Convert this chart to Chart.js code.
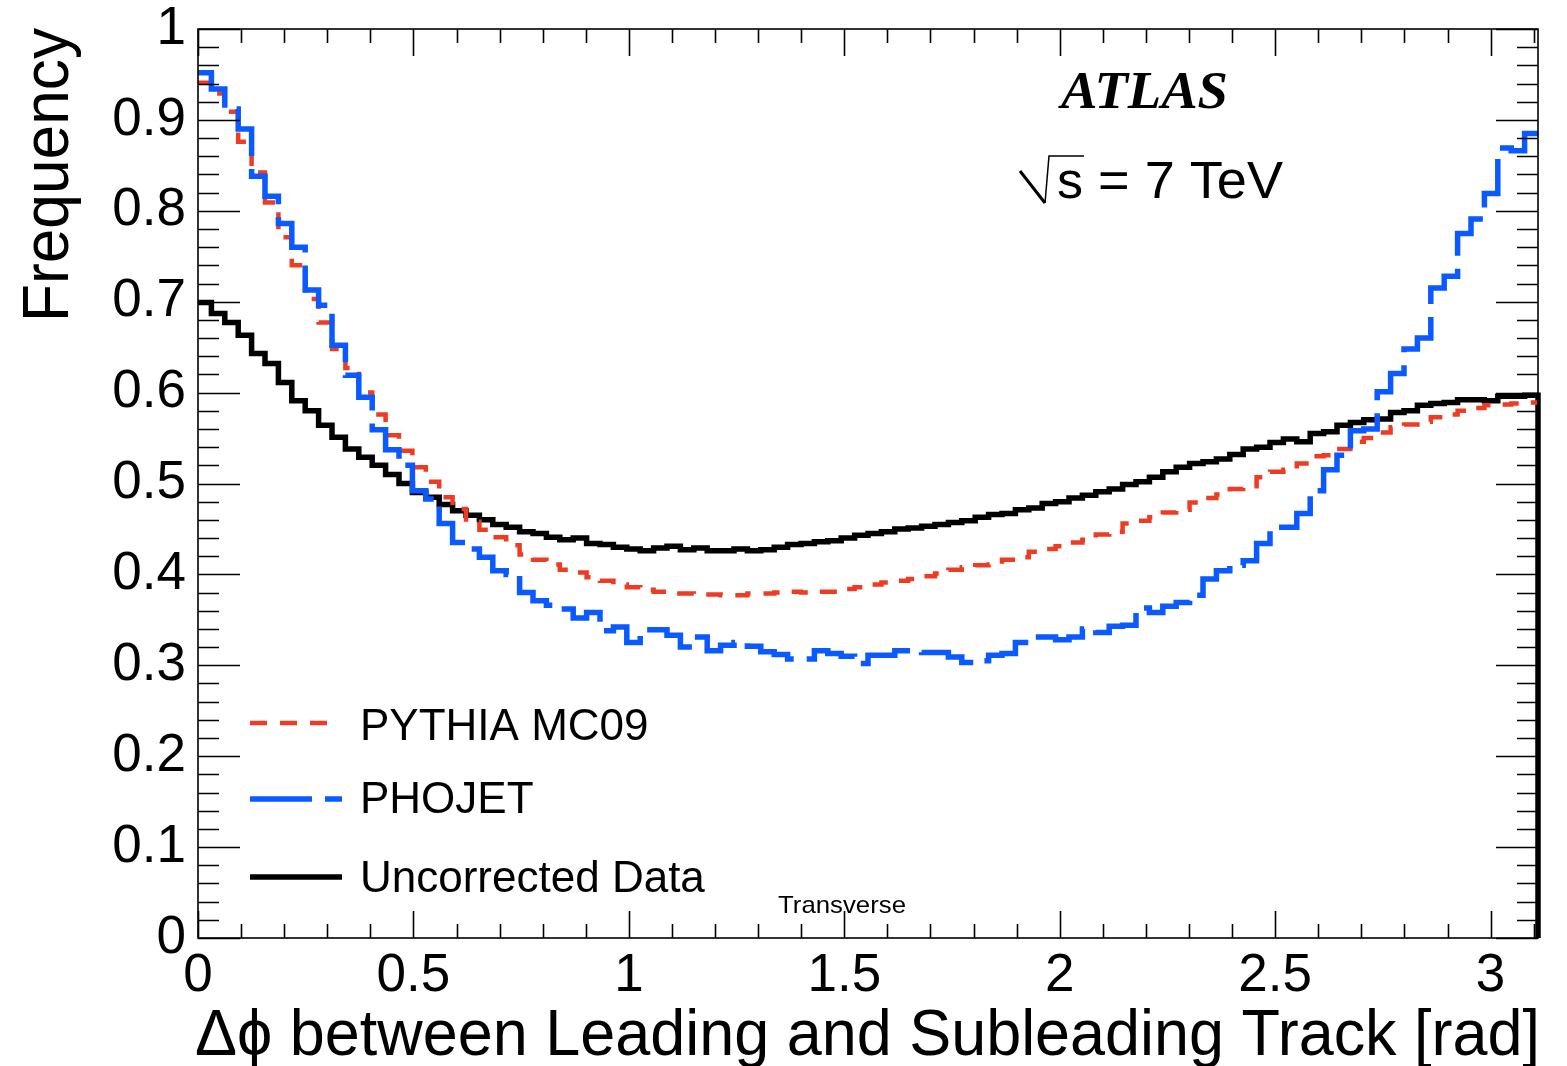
<!DOCTYPE html>
<html lang="en">
<head>
    <meta charset="UTF-8">
    <title>Δϕ between Leading and Subleading Track</title>
    <script src="https://cdn.jsdelivr.net/npm/chart.js"></script>
    <style>
        body {
            margin: 0;
            background-color: #fff;
        }
        .chart-container {
            width: 1567px;
            height: 1066px;
        }
    </style>
</head>
<body>
    <div class="chart-container">
        <canvas id="dphiChart"></canvas>
    </div>
    <script>
        // histogram range: 100 bins from 0 to the end of the frame
        const X_MAX = 3.11;

        const xTickValues = [0, 0.5, 1, 1.5, 2, 2.5, 3];
        const xTickLabels = ['0', '0.5', '1', '1.5', '2', '2.5', '3'];
        const yTickValues = [0, 0.1, 0.2, 0.3, 0.4, 0.5, 0.6, 0.7, 0.8, 0.9, 1];
        const yTickLabels = ['0', '0.1', '0.2', '0.3', '0.4', '0.5', '0.6', '0.7', '0.8', '0.9', '1'];

        const seriesNames = ['PYTHIA MC09', 'PHOJET', 'Uncorrected Data'];

        const pythia = [
            0.941, 0.929, 0.909, 0.876, 0.842, 0.809, 0.771, 0.740, 0.703, 0.677,
            0.648, 0.627, 0.600, 0.576, 0.553, 0.536, 0.518, 0.502, 0.485, 0.472,
            0.458, 0.449, 0.441, 0.432, 0.422, 0.416, 0.411, 0.405, 0.402, 0.397,
            0.393, 0.389, 0.386, 0.383, 0.381, 0.379, 0.379, 0.378, 0.378, 0.377,
            0.377, 0.379, 0.379, 0.380, 0.381, 0.380, 0.381, 0.381, 0.384, 0.386,
            0.389, 0.391, 0.393, 0.395, 0.398, 0.401, 0.405, 0.408, 0.410, 0.411,
            0.416, 0.419, 0.425, 0.428, 0.431, 0.435, 0.438, 0.444, 0.447, 0.456,
            0.459, 0.463, 0.468, 0.471, 0.479, 0.484, 0.488, 0.494, 0.497, 0.507,
            0.513, 0.515, 0.522, 0.530, 0.531, 0.538, 0.546, 0.550, 0.556, 0.562,
            0.565, 0.568, 0.573, 0.576, 0.580, 0.583, 0.586, 0.587, 0.588, 0.589
        ];

        const phojet = [
            0.952, 0.934, 0.912, 0.890, 0.838, 0.816, 0.786, 0.760, 0.713, 0.696,
            0.652, 0.619, 0.595, 0.559, 0.537, 0.520, 0.492, 0.483, 0.456, 0.435,
            0.428, 0.419, 0.404, 0.400, 0.380, 0.371, 0.366, 0.362, 0.352, 0.358,
            0.338, 0.342, 0.325, 0.339, 0.339, 0.333, 0.320, 0.331, 0.316, 0.322,
            0.325, 0.321, 0.315, 0.312, 0.307, 0.307, 0.316, 0.313, 0.310, 0.302,
            0.311, 0.311, 0.316, 0.316, 0.314, 0.314, 0.309, 0.303, 0.305, 0.311,
            0.313, 0.325, 0.331, 0.331, 0.328, 0.331, 0.340, 0.336, 0.343, 0.344,
            0.363, 0.358, 0.365, 0.369, 0.377, 0.395, 0.404, 0.410, 0.415, 0.434,
            0.452, 0.452, 0.467, 0.492, 0.515, 0.531, 0.558, 0.560, 0.601, 0.621,
            0.648, 0.660, 0.715, 0.728, 0.775, 0.791, 0.819, 0.869, 0.866, 0.885
        ];

        const uncorrected = [
            0.699, 0.687, 0.677, 0.663, 0.643, 0.632, 0.611, 0.591, 0.580, 0.564,
            0.551, 0.538, 0.529, 0.520, 0.510, 0.500, 0.490, 0.485, 0.477, 0.470,
            0.465, 0.460, 0.455, 0.452, 0.447, 0.445, 0.441, 0.438, 0.440, 0.434,
            0.433, 0.430, 0.428, 0.426, 0.429, 0.431, 0.427, 0.429, 0.426, 0.426,
            0.428, 0.426, 0.427, 0.430, 0.433, 0.434, 0.436, 0.437, 0.440, 0.443,
            0.445, 0.447, 0.450, 0.451, 0.453, 0.455, 0.457, 0.459, 0.463, 0.466,
            0.467, 0.471, 0.473, 0.478, 0.480, 0.484, 0.487, 0.491, 0.494, 0.499,
            0.502, 0.507, 0.513, 0.518, 0.522, 0.524, 0.527, 0.532, 0.538, 0.540,
            0.545, 0.549, 0.546, 0.555, 0.557, 0.564, 0.567, 0.570, 0.571, 0.578,
            0.580, 0.586, 0.588, 0.589, 0.592, 0.592, 0.591, 0.596, 0.596, 0.597
        ];

        const SANS = "'Liberation Sans', Arial, sans-serif";

        // bin low edges + closing point; stepped 'before' keeps each value over its own bin
        function histPoints(values, dropToZero) {
            const w = X_MAX / values.length;
            const pts = values.map((v, i) => ({ x: i * w, y: v }));
            pts.push({ x: X_MAX, y: values[values.length - 1] });
            if (dropToZero) pts.push({ x: X_MAX, y: 0 });
            return pts;
        }

        // draw text squeezed/stretched to a given width
        function fitText(ctx, text, x, y, font, width) {
            ctx.font = font;
            const w = ctx.measureText(text).width;
            ctx.save();
            ctx.translate(x, y);
            ctx.scale(width / w, 1);
            ctx.textAlign = 'left';
            ctx.textBaseline = 'alphabetic';
            ctx.fillText(text, 0, 0);
            ctx.restore();
        }

        const rootFrame = {
            id: 'rootFrame',
            afterDraw(chart) {
                const { ctx, chartArea: a, scales } = chart;
                const xs = scales.x, ys = scales.y;
                ctx.save();
                ctx.strokeStyle = '#000';
                ctx.fillStyle = '#000';
                ctx.lineWidth = 1.6;
                ctx.setLineDash([]);

                // frame
                ctx.strokeRect(a.left, a.top, a.right - a.left, a.bottom - a.top);

                // x ticks, inside, bottom and top
                ctx.beginPath();
                for (let k = 0; k / 10 <= X_MAX + 1e-9; k++) {
                    const px = Math.round(xs.getPixelForValue(k / 10)) + 0.5;
                    const len = k % 5 === 0 ? 27 : 14;
                    ctx.moveTo(px, a.bottom);
                    ctx.lineTo(px, a.bottom - len);
                    ctx.moveTo(px, a.top);
                    ctx.lineTo(px, a.top + len);
                }
                // y ticks, inside, left and right
                for (let k = 0; k <= 50; k++) {
                    const py = Math.round(ys.getPixelForValue(k / 50)) + 0.5;
                    const len = k % 5 === 0 ? 42 : 21;
                    ctx.moveTo(a.left, py);
                    ctx.lineTo(a.left + len, py);
                    ctx.moveTo(a.right, py);
                    ctx.lineTo(a.right - len, py);
                }
                ctx.stroke();

                // axis titles
                fitText(ctx, 'Δϕ between Leading and Subleading Track [rad]', 195, 1055, '64px ' + SANS, 1345);
                ctx.save();
                ctx.translate(68, 322);
                ctx.rotate(-Math.PI / 2);
                fitText(ctx, 'Frequency', 0, 0, '64px ' + SANS, 294);
                ctx.restore();

                // ATLAS label and energy
                fitText(ctx, 'ATLAS', 1061, 108, "bold italic 53px 'Liberation Serif', 'Times New Roman', serif", 167);

                ctx.lineWidth = 3;
                ctx.beginPath();
                ctx.moveTo(1020, 171);
                ctx.lineTo(1045, 203);
                ctx.stroke();
                ctx.lineWidth = 1.5;
                ctx.beginPath();
                ctx.moveTo(1045, 203);
                ctx.lineTo(1049, 156);
                ctx.lineTo(1084, 156);
                ctx.stroke();
                ctx.font = '52px ' + SANS;
                ctx.fillText('s', 1057, 198);
                fitText(ctx, '= 7 TeV', 1098, 198, '51px ' + SANS, 185);

                fitText(ctx, 'Transverse', 778, 913, '24px ' + SANS, 128);

                // legend
                const rows = [
                    { ds: 0, y: 723, textY: 740 },
                    { ds: 1, y: 799, textY: 813 },
                    { ds: 2, y: 877, textY: 892 }
                ];
                rows.forEach(r => {
                    const ds = chart.data.datasets[r.ds];
                    ctx.strokeStyle = ds.borderColor;
                    ctx.lineWidth = ds.borderWidth;
                    ctx.setLineDash(ds.borderDash || []);
                    ctx.beginPath();
                    ctx.moveTo(250, r.y);
                    ctx.lineTo(r.ds === 0 ? 327 : 342, r.y);
                    ctx.stroke();
                    ctx.setLineDash([]);
                    ctx.fillStyle = '#000';
                    ctx.font = '44px ' + SANS;
                    ctx.fillText(ds.label, 360, r.textY);
                });
                ctx.restore();
            }
        };

        const ctx = document.getElementById('dphiChart').getContext('2d');
        const chart = new Chart(ctx, {
            type: 'line',
            data: {
                datasets: [
                    {
                        label: seriesNames[0],
                        data: histPoints(pythia, false),
                        borderColor: '#ee3b23',
                        borderWidth: 4.5,
                        borderDash: [17, 13],
                        stepped: 'before',
                        pointRadius: 0,
                        fill: false,
                        order: 1
                    },
                    {
                        label: seriesNames[1],
                        data: histPoints(phojet, false),
                        borderColor: '#0a5aff',
                        borderWidth: 5.5,
                        borderDash: [62, 13],
                        stepped: 'before',
                        pointRadius: 0,
                        fill: false,
                        order: 0
                    },
                    {
                        label: seriesNames[2],
                        data: histPoints(uncorrected, true),
                        borderColor: '#000000',
                        borderWidth: 5.5,
                        stepped: 'before',
                        pointRadius: 0,
                        fill: false,
                        clip: 8,
                        order: 2
                    }
                ]
            },
            options: {
                responsive: true,
                maintainAspectRatio: false,
                animation: false,
                layout: {
                    padding: { top: 29, right: 29, left: 0, bottom: 0 }
                },
                scales: {
                    x: {
                        type: 'linear',
                        min: 0,
                        max: X_MAX,
                        afterFit: s => {
                            s.height = 128;
                            s.paddingLeft = 0;
                            s.paddingRight = 0;
                        },
                        afterBuildTicks: s => { s.ticks = xTickValues.map(v => ({ value: v })); },
                        grid: { display: false, drawTicks: false },
                        border: { display: false },
                        ticks: {
                            padding: 7,
                            color: '#000',
                            maxRotation: 0,
                            autoSkip: false,
                            font: { family: SANS, size: 53 },
                            callback: v => xTickLabels[xTickValues.indexOf(v)]
                        }
                    },
                    y: {
                        type: 'linear',
                        min: 0,
                        max: 1,
                        afterFit: s => {
                            s.width = 198;
                            s.paddingTop = 0;
                            s.paddingBottom = 0;
                        },
                        afterBuildTicks: s => { s.ticks = yTickValues.map(v => ({ value: v })); },
                        grid: { display: false, drawTicks: false },
                        border: { display: false },
                        ticks: {
                            padding: 12,
                            color: '#000',
                            autoSkip: false,
                            font: { family: SANS, size: 53 },
                            callback: v => yTickLabels[yTickValues.indexOf(v)]
                        }
                    }
                },
                plugins: {
                    legend: { display: false },
                    title: { display: false },
                    tooltip: { enabled: false }
                }
            },
            plugins: [rootFrame]
        });
    </script>
</body>
</html>
